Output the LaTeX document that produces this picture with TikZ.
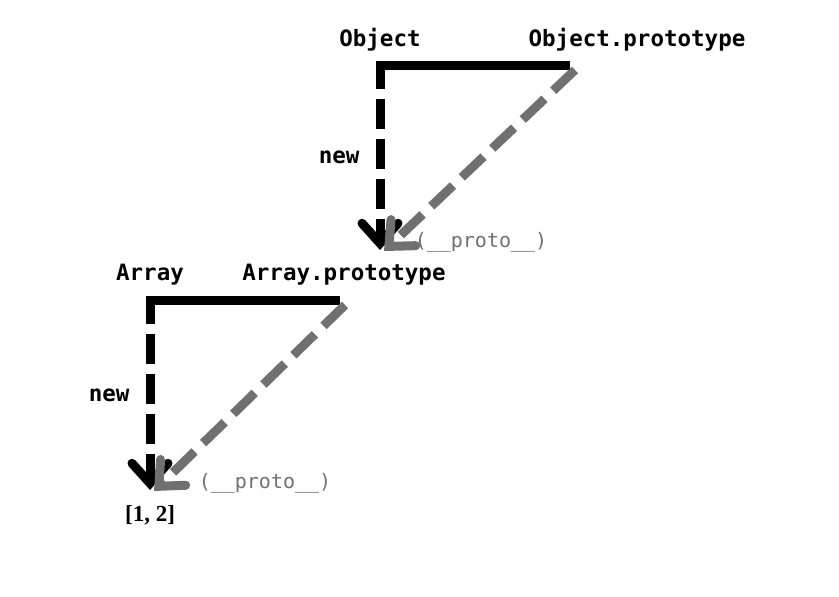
\documentclass[tikz,border=0pt]{standalone}
\usepackage{fontspec}
\setmonofont{DejaVu Sans Mono}
\newfontfamily\valfont{Liberation Serif}
\usetikzlibrary{arrows.meta,positioning}
\definecolor{protogray}{HTML}{707070}

\begin{document}
\begin{tikzpicture}[x=1pt, y=-1pt,
    lbl/.style={font=\fontsize{22.5}{26}\selectfont\ttfamily\bfseries, inner sep=0pt},
    protolbl/.style={font=\fontsize{20}{24}\selectfont\ttfamily, text=protogray, inner sep=0pt},
    ctor/.style={line width=9pt, black},
    newarr/.style={line width=9pt, black, dash pattern=on 30pt off 10pt, dash phase=6pt,
        -{Straight Barb[length=20pt, width=36pt, line width=9pt, line cap=round]}},
    protoarr/.style={line width=9pt, protogray, dash pattern=on 30pt off 12pt,
        -{Straight Barb[length=20pt, width=36pt, line width=9pt, line cap=round]}}
]
\useasboundingbox (0,0) rectangle (839,597);

\node[lbl] (obj) at (380,40) {Object};
\node[lbl] (objproto) at (637,40) {Object.prototype};
\node[lbl] (arr) at (150,275) {Array};
\node[lbl] (arrproto) at (344,275) {Array.prototype};
\node[font=\valfont\bfseries\fontsize{23}{27}\selectfont, inner sep=0pt] (val) at (150,515) {[1, 2]};

\coordinate (objc) at (380,65);
\coordinate (objp) at (570,65);
\coordinate (objtip) at (380,250);
\coordinate (objptip) at (384,251);
\coordinate (arrc) at (150,300);
\coordinate (arrp) at (340,300);
\coordinate (arrtip) at (150,490);
\coordinate (arrptip) at (154,491);

\draw[ctor] (objp) -- ([xshift=-4.5pt]objc);
\draw[newarr] (objc) -- node[lbl, left=16pt] (objnew) {new} (objtip);
\draw[protoarr] ([shift={(5pt,-5pt)}]objp) -- (objptip);
\node[protolbl] (objlink) at (481,242) {(\_\_proto\_\_)};

\draw[ctor] (arrp) -- ([xshift=-4.5pt]arrc);
\draw[newarr] (arrc) -- node[lbl, left=16pt] (arrnew) {new} (arrtip);
\draw[protoarr] ([shift={(5pt,-5pt)}]arrp) -- (arrptip);
\node[protolbl] (arrlink) at (265,483) {(\_\_proto\_\_)};
\end{tikzpicture}
\end{document}
